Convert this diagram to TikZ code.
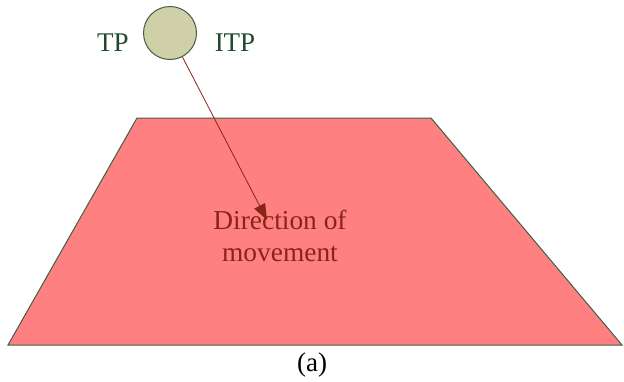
\documentclass[tikz,border=0pt]{standalone}
\usepackage{fontspec}
\setmainfont{Liberation Serif}
\usetikzlibrary{arrows.meta,positioning}
\definecolor{slabC}{HTML}{FF8080}
\definecolor{edgeC}{HTML}{3F5F45}
\definecolor{ballC}{HTML}{D0D0A8}
\definecolor{tagC}{HTML}{1F4A30}
\definecolor{moveC}{HTML}{8B2418}

\begin{document}
\begin{tikzpicture}[
    x=0.5pt, y=-0.5pt,
    ball/.style={circle, draw=edgeC, fill=ballC, line width=0.5pt, minimum size=26.5pt, inner sep=0pt},
    tag/.style={text=tagC, font=\fontsize{13.5}{16}\selectfont, inner sep=0pt},
    label/.style={text=moveC, align=center, font=\fontsize{13.7}{16}\selectfont, inner sep=0pt},
    arrow/.style={-{Triangle[length=8pt, width=6pt]}, line width=0.4pt, draw=moveC}
]
\useasboundingbox (0,0) rectangle (624,381);
% surface
\draw[fill=slabC, draw=edgeC, line width=0.5pt] (137,118) -- (431,118) -- (622,345) -- (8,345) -- cycle;
\node[ball] (obj) at (170,33) {};
\node[tag] (tp) at (113,43) {TP};
\node[tag] (itp) at (235,43) {ITP};
\node[label] (dir) at (280,236) {Direction of\\movement};
\node[tag, text=black] (cap) at (312,365) {(a)};
\coordinate (tip) at (267,220);

\draw[arrow] (obj) -- (tip);
\end{tikzpicture}
\end{document}
